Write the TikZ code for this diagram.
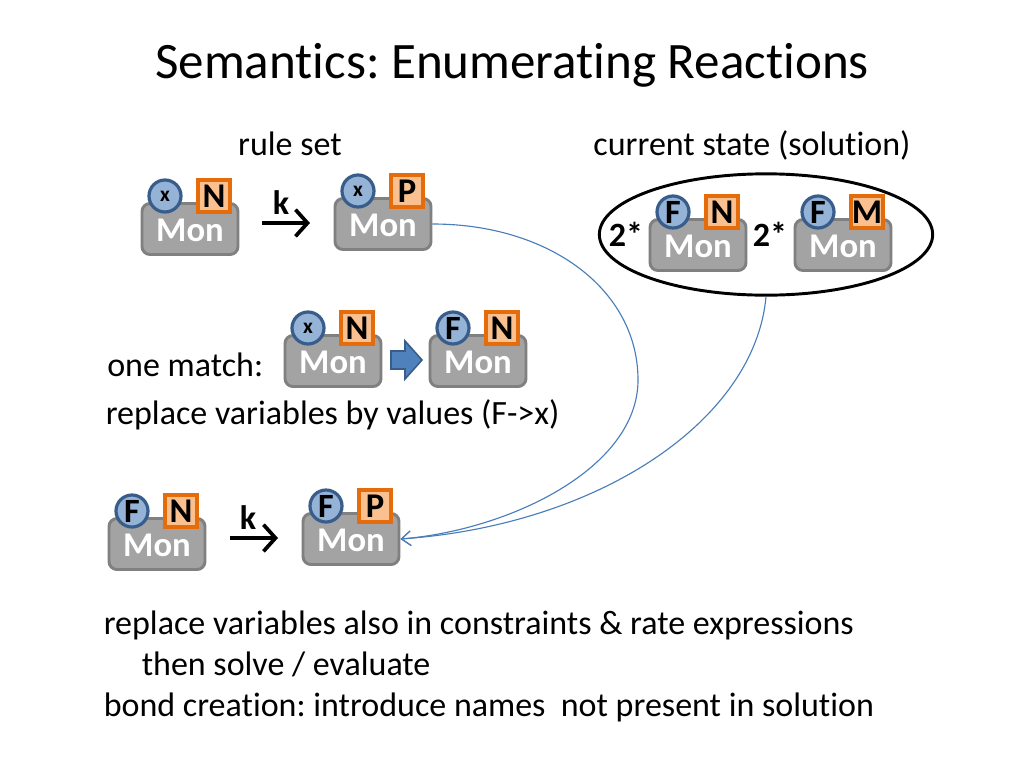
\documentclass[tikz,border=0pt]{standalone}
\usepackage{fontspec}
\setmainfont[Ligatures={NoCommon}]{Carlito}
\frenchspacing
\usetikzlibrary{arrows.meta,shapes.geometric}
\definecolor{mongray}{HTML}{A3A3A3}
\definecolor{monedge}{HTML}{808080}
\definecolor{circfill}{HTML}{95B3D7}
\definecolor{circedge}{HTML}{385D8A}
\definecolor{sqfill}{HTML}{FAC090}
\definecolor{sqedge}{HTML}{E46C0A}
\definecolor{linkblue}{HTML}{4A7EBB}
\definecolor{blockfill}{HTML}{4F81BD}
\definecolor{blockedge}{HTML}{385D8A}
\tikzset{
  x=0.75pt,y=-0.75pt,
  body/.style={font=\fontsize{25.5}{30}\selectfont,inner sep=0,anchor=base west},
  bodyc/.style={font=\fontsize{25.5}{30}\selectfont,inner sep=0,anchor=base},
  monbox/.style={draw=monedge,fill=mongray,line width=2.2pt,rounded corners=6pt,minimum width=72pt,minimum height=38.25pt,inner sep=0,text=white,font=\fontsize{26}{30}\bfseries\selectfont,text depth=0pt},
  circ/.style={draw=circedge,fill=circfill,line width=2.4pt,circle,minimum size=24pt,inner sep=0,font=\fontsize{25.5}{30}\bfseries\selectfont},
  circsmall/.style={circ,font=\fontsize{16}{18}\bfseries\selectfont},
  sq/.style={draw=sqedge,fill=sqfill,line width=2.6pt,minimum size=24pt,inner sep=0,font=\fontsize{26}{30}\bfseries\selectfont},
  rate/.style={font=\fontsize{25.5}{30}\bfseries\selectfont,inner sep=0,anchor=base},
  reaction/.style={line width=2.8pt,-{Straight Barb[length=9pt,width=20pt,line width=2.8pt]}},
  link/.style={draw=linkblue,line width=0.85pt,-{Straight Barb[length=7pt,width=11pt,line width=0.85pt]}},
}
\newcommand{\monomer}[6]{%
  \node[monbox] (#1) at (#2,#3) {\raisebox{-1.4pt}{Mon}};
  \node[#6] (#1c) at (#2-25,#3-33) {#4};
  \node[sq] (#1s) at (#2+24,#3-33) {#5};
}
\begin{document}
\begin{tikzpicture}
\useasboundingbox (0,0) rectangle (1024,768);
\fill[white] (0,0) rectangle (1024,768);
\node[font=\fontsize{38.3}{44}\selectfont,inner sep=0,anchor=base] (title) at (512,78) {Semantics: Enumerating Reactions};
\node[bodyc] (ruleset) at (290,155) {rule set};
\node[bodyc] (statelabel) at (752,155) {current state (solution)};

\node[draw=black,line width=2.2pt,ellipse,minimum width=250pt,minimum height=91pt,inner sep=0] (state) at (766,234.5) {};

\monomer{ra}{190}{229}{x}{N}{circsmall}
\monomer{rb}{383}{224}{x}{P}{circsmall}
\node[rate] (k1) at (281,214) {k};
\coordinate (k1s) at (262,223);
\coordinate (k1e) at (310,223);
\draw[reaction] (k1s) -- (k1e);

\monomer{sa}{698}{245}{F}{N}{circ}
\monomer{sb}{843}{245}{F}{M}{circ}
\node[rate] (two1) at (626,246) {2*};
\node[rate] (two2) at (770,246) {2*};

\node[body] (onematch) at (107,376) {one match:};
\monomer{ma}{333}{361}{x}{N}{circsmall}
\monomer{mb}{478}{361}{F}{N}{circ}
\draw[draw=blockedge,fill=blockfill,line width=1.2pt,line join=miter]
  (391,351) -- (405,351) -- (405,341) -- (422,360) -- (405,379) -- (405,369) -- (391,369) -- cycle;
\node[body] (replace) at (105.5,424) {replace variables by values (F->x)};

\monomer{ba}{157}{544}{F}{N}{circ}
\monomer{bb}{351}{539}{F}{P}{circ}
\node[rate] (k2) at (248,529) {k};
\coordinate (k2s) at (230,538);
\coordinate (k2e) at (278,538);
\draw[reaction] (k2s) -- (k2e);

\draw[link] (rb.east) .. controls (550,224) and (638,290) .. (638,380) .. controls (638,468) and (510,530) .. (bb.east);
\draw[link] (state.south) .. controls (755,420) and (600,525) .. (bb.east);

\node[body] (l1) at (103.5,634) {replace variables also in constraints \& rate expressions};
\node[body] (l2) at (141.5,675) {then solve / evaluate};
\node[body] (l3) at (103.5,716) {bond creation: introduce names\ \ not present in solution};
\end{tikzpicture}
\end{document}
